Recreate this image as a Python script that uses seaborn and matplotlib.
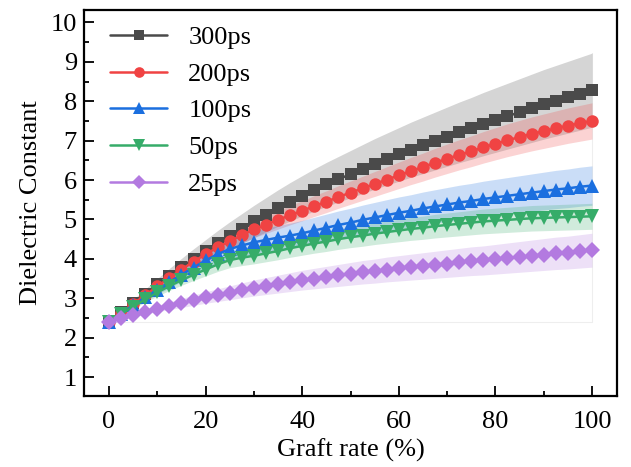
import numpy as np
import pandas as pd
import matplotlib
matplotlib.use("Agg")
import matplotlib.pyplot as plt
from matplotlib.ticker import MultipleLocator
import seaborn as sns

# Graft rate (%) sampled every 2.5 %
graft_rate = [i * 2.5 for i in range(41)]

eps_300ps = [2.40, 2.65, 2.89, 3.12, 3.35, 3.57, 3.79, 4.00, 4.20, 4.40, 4.59,
             4.77, 4.95, 5.12, 5.29, 5.45, 5.60, 5.75, 5.89, 6.02, 6.15,
             6.28, 6.41, 6.53, 6.65, 6.77, 6.88, 6.99, 7.10, 7.21, 7.31,
             7.42, 7.52, 7.62, 7.72, 7.82, 7.92, 8.01, 8.10, 8.19, 8.28]
eps_200ps = [2.40, 2.63, 2.86, 3.08, 3.30, 3.52, 3.73, 3.93, 4.12, 4.29, 4.45,
             4.60, 4.75, 4.87, 4.99, 5.11, 5.22, 5.34, 5.45, 5.57, 5.68,
             5.79, 5.90, 6.01, 6.12, 6.23, 6.33, 6.44, 6.54, 6.64, 6.73,
             6.83, 6.92, 7.01, 7.09, 7.17, 7.24, 7.31, 7.38, 7.44, 7.50]
eps_100ps = [2.40, 2.61, 2.82, 3.02, 3.22, 3.41, 3.60, 3.78, 3.96, 4.12, 4.25,
             4.34, 4.42, 4.48, 4.54, 4.59, 4.65, 4.72, 4.79, 4.86, 4.92,
             4.99, 5.05, 5.11, 5.17, 5.22, 5.28, 5.33, 5.38, 5.43, 5.47,
             5.52, 5.56, 5.60, 5.64, 5.68, 5.72, 5.76, 5.79, 5.83, 5.86]
eps_50ps = [2.40, 2.60, 2.79, 2.97, 3.15, 3.31, 3.46, 3.60, 3.73, 3.86, 3.97,
            4.03, 4.08, 4.14, 4.20, 4.27, 4.33, 4.39, 4.44, 4.50, 4.55,
            4.59, 4.64, 4.68, 4.72, 4.76, 4.79, 4.83, 4.86, 4.89, 4.92,
            4.95, 4.97, 4.99, 5.01, 5.03, 5.04, 5.05, 5.06, 5.07, 5.08]
eps_25ps = [2.40, 2.49, 2.58, 2.66, 2.74, 2.81, 2.88, 2.95, 3.02, 3.08, 3.14,
            3.20, 3.26, 3.31, 3.36, 3.41, 3.46, 3.50, 3.54, 3.58, 3.62,
            3.66, 3.69, 3.73, 3.76, 3.79, 3.82, 3.85, 3.88, 3.91, 3.94,
            3.96, 3.99, 4.02, 4.05, 4.08, 4.11, 4.14, 4.16, 4.19, 4.22]

labels = ["300ps", "200ps", "100ps", "50ps", "25ps"]
# half-width of the uncertainty band at 100 % graft rate
band_end = [0.94, 0.46, 0.50, 0.33, 0.43]

series = [eps_300ps, eps_200ps, eps_100ps, eps_50ps, eps_25ps]
colors = ["#4a4a4a", "#f04343", "#1b6fdf", "#36ac69", "#b37ae0"]
markers = ["s", "o", "^", "v", "D"]
msizes = [8.2, 9, 9.5, 9.5, 8.2]

sns.set_style("ticks")
plt.rcParams["font.family"] = ["Liberation Serif", "DejaVu Serif"]
plt.rcParams["mathtext.fontset"] = "stix"
plt.rcParams["text.color"] = "black"
plt.rcParams["axes.labelcolor"] = "black"
plt.rcParams["xtick.color"] = "black"
plt.rcParams["ytick.color"] = "black"

fig = plt.figure(figsize=(6.31, 4.67), dpi=100)
ax = fig.add_axes([0.133, 0.152, 0.845, 0.827])

x = np.array(graft_rate)

# shaded bands, widening with the rise above the starting value
for y, half, c in zip(series, band_end, colors):
    y = np.array(y)
    w = half * (y - y[0]) / (y[-1] - y[0])
    ax.fill_between(x, y - w, y + w, color=c, alpha=0.23, lw=0, zorder=1)

top_band = np.array(eps_300ps[-1]) + band_end[0]
ax.plot([x[0], x[-1], x[-1]], [eps_300ps[0], eps_300ps[0], top_band],
        color="#eeeeee", lw=0.8, zorder=0.5)

for y, lab, c, m, ms in zip(series, labels, colors, markers, msizes):
    df = pd.DataFrame({"graft": x, "eps": y})
    sns.lineplot(data=df, x="graft", y="eps", ax=ax, color=c, marker=m,
                 markersize=ms, markeredgewidth=0, linewidth=1.8,
                 label=lab, zorder=3)

ax.set_xlim(-5.2, 105.2)
ax.set_ylim(0.52, 10.32)
ax.xaxis.set_major_locator(MultipleLocator(20))
ax.xaxis.set_minor_locator(MultipleLocator(10))
ax.yaxis.set_major_locator(MultipleLocator(1))
ax.yaxis.set_minor_locator(MultipleLocator(0.5))
ax.set_yticks(range(1, 11))

ax.tick_params(which="both", direction="in", top=False, right=False,
               width=1.3, labelsize=19, colors="black", labelcolor="black")
ax.tick_params(which="major", length=7)
ax.tick_params(which="minor", length=3.5)
ax.tick_params(axis="x", pad=11)
ax.tick_params(axis="y", pad=5)
for sp in ax.spines.values():
    sp.set_linewidth(1.6)
    sp.set_color("black")
    sp.set_visible(True)

ax.set_xlabel("Graft rate (%)", fontsize=19, labelpad=4, color="black")
ax.set_ylabel("Dielectric Constant", fontsize=19, labelpad=6, color="black")

handles, texts = ax.get_legend_handles_labels()
leg = ax.legend(handles, texts, loc="upper left", bbox_to_anchor=(0.02, 1.0),
                frameon=False, fontsize=19, handlelength=2.15,
                handletextpad=0.8, labelspacing=0.5, borderaxespad=0.2,
                markerscale=0.85, labelcolor="black")

fig.savefig("out.png", dpi=100)
